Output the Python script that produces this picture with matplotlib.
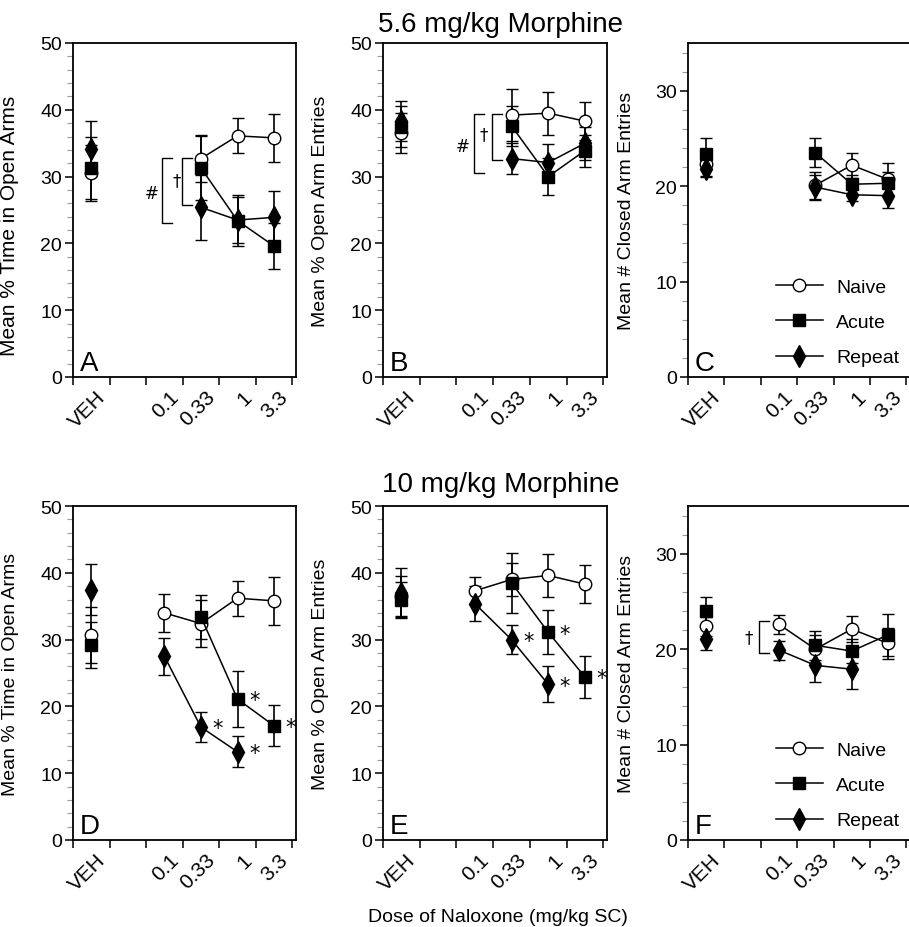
import numpy as np
import matplotlib
matplotlib.use('Agg')
import matplotlib.pyplot as plt
import matplotlib.transforms as mtransforms
from matplotlib.lines import Line2D
from matplotlib.ticker import MultipleLocator, FixedLocator, NullFormatter

plt.rcParams['font.family'] = ['Liberation Sans', 'DejaVu Sans']

nan = np.nan

# x categories (VEH is drawn apart from the naloxone doses)
dose_labels = ['VEH', '0.1', '0.33', '1', '3.3']
dose_pos = [0.5, 2.5, 3.5, 4.5, 5.5]

# ---- 5.6 mg/kg morphine ----
# A: % time in open arms
A_naive = [30.5, nan, 32.7, 36.1, 35.8]
A_naive_sem = [4.2, nan, 3.5, 2.6, 3.6]
A_acute = [31.3, nan, 31.3, 23.4, 19.6]
A_acute_sem = [4.7, nan, 4.8, 3.8, 3.5]
A_repeat = [34.2, nan, 25.4, 23.5, 23.9]
A_repeat_sem = [4.1, nan, 4.9, 3.5, 3.9]

# B: % open arm entries
B_naive = [36.5, nan, 39.2, 39.5, 38.3]
B_naive_sem = [3.0, nan, 3.9, 3.2, 2.8]
B_acute = [37.5, nan, 37.6, 30.0, 33.9]
B_acute_sem = [3.0, nan, 3.0, 2.8, 2.4]
B_repeat = [38.3, nan, 32.7, 32.1, 35.0]
B_repeat_sem = [3.0, nan, 2.3, 2.8, 2.5]

# C: # closed arm entries
C_naive = [22.3, nan, 20.1, 22.2, 20.7]
C_naive_sem = [1.2, nan, 1.4, 1.3, 1.7]
C_acute = [23.4, nan, 23.5, 20.2, 20.3]
C_acute_sem = [1.6, nan, 1.5, 1.0, 1.2]
C_repeat = [21.8, nan, 19.9, 19.1, 19.0]
C_repeat_sem = [0.8, nan, 1.3, 0.7, 1.3]

# ---- 10 mg/kg morphine ----
D_naive = [30.7, 34.0, 32.4, 36.2, 35.8]
D_naive_sem = [4.2, 2.8, 3.5, 2.6, 3.6]
D_acute = [29.2, nan, 33.4, 21.1, 17.1]
D_acute_sem = [3.4, nan, 3.3, 4.2, 3.1]
D_repeat = [37.5, 27.5, 16.9, 13.2, nan]
D_repeat_sem = [3.8, 2.8, 2.3, 2.3, nan]

E_naive = [36.5, 37.3, 39.0, 39.6, 38.3]
E_naive_sem = [3.0, 2.0, 2.5, 3.2, 2.8]
E_acute = [36.0, nan, 38.5, 31.1, 24.4]
E_acute_sem = [2.6, nan, 4.5, 3.3, 3.2]
E_repeat = [37.0, 35.4, 30.0, 23.3, nan]
E_repeat_sem = [3.7, 2.6, 2.2, 2.7, nan]

F_naive = [22.4, 22.6, 20.0, 22.1, 20.6]
F_naive_sem = [1.0, 1.0, 1.5, 1.4, 1.6]
F_acute = [24.0, nan, 20.4, 19.8, 21.5]
F_acute_sem = [1.5, nan, 1.5, 1.3, 2.2]
F_repeat = [21.1, 19.9, 18.3, 17.9, nan]
F_repeat_sem = [1.2, 1.0, 1.7, 2.1, nan]

# significance marks: (group, dose index)
D_stars = [('acute', 3), ('acute', 4), ('repeat', 2), ('repeat', 3)]
E_stars = [('acute', 3), ('acute', 4), ('repeat', 2), ('repeat', 3)]

# brackets: (x, y_low, y_high, symbol, text_x, text_y)
A_brackets = [(2.43, 23.0, 32.8, '#', 2.14, 27.6), (2.99, 25.8, 32.8, '\u2020', 2.83, 29.4)]
B_brackets = [(2.47, 30.5, 39.3, '#', 2.17, 34.6), (2.96, 32.5, 39.3, '\u2020', 2.73, 36.3)]
F_brackets = [(1.96, 19.6, 22.9, '\u2020', 1.66, 21.3)]


def draw_panel(ax, naive, naive_sem, acute, acute_sem, repeat, repeat_sem,
               ymax, ylabel, letter, label_y=0.5, label_size=14,
               stars=(), brackets=(), legend=False):
    groups = {
        'naive': (naive, naive_sem, 'o', 'white', 9),
        'repeat': (repeat, repeat_sem, 'd', 'black', 11),
        'acute': (acute, acute_sem, 's', 'black', 9),
    }
    x = np.array(dose_pos)
    for name, (vals, sem, mk, face, ms) in groups.items():
        vals = np.array(vals, dtype=float)
        sem = np.array(sem, dtype=float)
        style = dict(color='black', marker=mk, markersize=ms, markerfacecolor=face,
                     markeredgecolor='black', markeredgewidth=1.0, ecolor='black',
                     elinewidth=1.2, capsize=4.5, capthick=1.2, linewidth=1.1)
        # vehicle point, not joined to the doses
        ax.errorbar(x[:1], vals[:1], yerr=sem[:1], linestyle='none', **style)
        ok = ~np.isnan(vals[1:])
        ax.errorbar(x[1:][ok], vals[1:][ok], yerr=sem[1:][ok], linestyle='-', **style)

    for name, i in stars:
        vals = groups[name][0]
        ax.annotate('*', (x[i], vals[i]), xytext=(12, -1), textcoords='offset points',
                    ha='center', va='center', fontsize=15, family='DejaVu Sans')

    for bx, y0, y1, sym, tx, ty in brackets:
        cap = 0.27
        ax.plot([bx + cap, bx, bx, bx + cap], [y0, y0, y1, y1], color='black', lw=1.0)
        ax.text(tx, ty, sym, ha='center', va='center', fontsize=12, family='DejaVu Sans')

    ax.set_xlim(0, 6.1)
    ax.set_ylim(0, ymax)
    ax.xaxis.set_major_locator(FixedLocator(range(7)))
    ax.xaxis.set_major_formatter(NullFormatter())
    ax.xaxis.set_minor_locator(FixedLocator(dose_pos))
    ax.set_xticklabels(dose_labels, minor=True, rotation=45, ha='right', va='center',
                       rotation_mode='anchor', fontsize=15)
    ax.tick_params(axis='x', which='minor', length=0, pad=12)
    ax.tick_params(axis='x', which='major', length=6, width=1.1, direction='out')
    shift = mtransforms.ScaledTranslation(8 / 72, 0, ax.figure.dpi_scale_trans)
    for lab in ax.get_xticklabels(minor=True):
        lab.set_transform(lab.get_transform() + shift)

    ax.yaxis.set_major_locator(MultipleLocator(10))
    ax.yaxis.set_minor_locator(MultipleLocator(2))
    ax.tick_params(axis='y', which='major', length=6, width=1.1, direction='out',
                   labelsize=14, pad=2)
    ax.tick_params(axis='y', which='minor', length=4, width=0.8, color='#999999',
                   direction='out')
    for sp in ax.spines.values():
        sp.set_linewidth(1.3)

    ax.set_ylabel(ylabel, fontsize=label_size)
    ax.yaxis.set_label_coords(-0.24, label_y)
    ax.text(0.03, 0.004, letter, transform=ax.transAxes, fontsize=20,
            ha='left', va='bottom')

    if legend:
        handles = [
            Line2D([], [], color='black', lw=1.1, marker='o', markersize=9,
                   markerfacecolor='white', markeredgecolor='black'),
            Line2D([], [], color='black', lw=1.1, marker='s', markersize=9),
            Line2D([], [], color='black', lw=1.1, marker='d', markersize=11),
        ]
        ax.legend(handles, ['Naive', 'Acute', 'Repeat'], loc='lower right',
                  bbox_to_anchor=(1.0, 0.0), frameon=False, fontsize=14,
                  handlelength=2.4, handletextpad=0.7, labelspacing=0.9,
                  borderaxespad=0.15)


W, H = 909, 928
fig = plt.figure(figsize=(W / 100, H / 100), dpi=100)


def box(left, right, top, bottom):
    return [left / W, 1 - bottom / H, (right - left) / W, (bottom - top) / H]


axA = fig.add_axes(box(73, 296, 44, 378))
axB = fig.add_axes(box(383, 607, 44, 378))
axC = fig.add_axes(box(688, 910, 44, 378))
axD = fig.add_axes(box(73, 296, 507, 841))
axE = fig.add_axes(box(383, 607, 507, 841))
axF = fig.add_axes(box(688, 910, 507, 841))

draw_panel(axA, A_naive, A_naive_sem, A_acute, A_acute_sem, A_repeat, A_repeat_sem,
           50, 'Mean % Time in Open Arms', 'A', label_y=0.455, label_size=15,
           brackets=A_brackets)
draw_panel(axB, B_naive, B_naive_sem, B_acute, B_acute_sem, B_repeat, B_repeat_sem,
           50, 'Mean % Open Arm Entries', 'B', brackets=B_brackets)
draw_panel(axC, C_naive, C_naive_sem, C_acute, C_acute_sem, C_repeat, C_repeat_sem,
           35, 'Mean # Closed Arm Entries', 'C', legend=True)
draw_panel(axD, D_naive, D_naive_sem, D_acute, D_acute_sem, D_repeat, D_repeat_sem,
           50, 'Mean % Time in Open Arms', 'D', stars=D_stars)
draw_panel(axE, E_naive, E_naive_sem, E_acute, E_acute_sem, E_repeat, E_repeat_sem,
           50, 'Mean % Open Arm Entries', 'E', stars=E_stars)
draw_panel(axF, F_naive, F_naive_sem, F_acute, F_acute_sem, F_repeat, F_repeat_sem,
           35, 'Mean # Closed Arm Entries', 'F', brackets=F_brackets, legend=True)

fig.text(501 / W, 1 - 32 / H, '5.6 mg/kg Morphine', ha='center', va='baseline', fontsize=20)
fig.text(501 / W, 1 - 492 / H, '10 mg/kg Morphine', ha='center', va='baseline', fontsize=20)
fig.text(498 / W, 1 - 922 / H, 'Dose of Naloxone (mg/kg SC)', ha='center', va='baseline',
         fontsize=14)

fig.savefig('out.png', dpi=100)
